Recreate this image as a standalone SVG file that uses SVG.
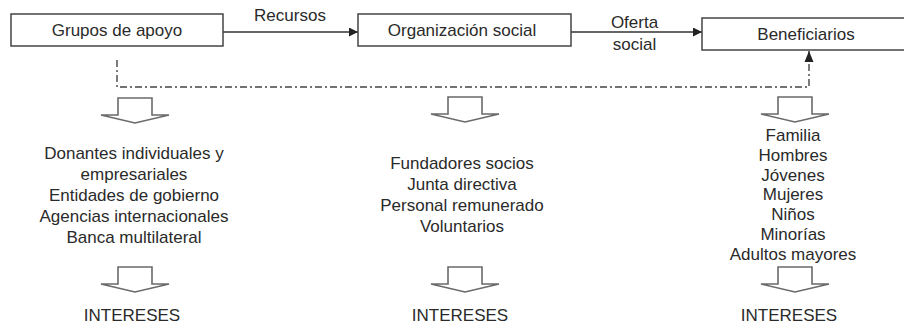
<svg xmlns="http://www.w3.org/2000/svg" width="904" height="324" viewBox="0 0 904 324">
<style>
text{font-family:"Liberation Sans",Arial,sans-serif;font-size:17px;fill:#2a2a2a;text-anchor:middle}
.box{fill:#fff;stroke:#444;stroke-width:1.5}
.conn{fill:none;stroke:#333;stroke-width:1.4}
.dd{fill:none;stroke:#444;stroke-width:1.4;stroke-dasharray:7 3 2 3}
.hollow{fill:#fff;stroke:#6a6a6a;stroke-width:1.6;stroke-linejoin:miter}
</style>
<defs>
<marker id="ah" viewBox="0 0 10 10" refX="10" refY="5" markerWidth="10" markerHeight="9" markerUnits="userSpaceOnUse" orient="auto">
<path d="M0,0 L10,5 L0,10 Z" fill="#222"/>
</marker>
<path id="harrow" class="hollow" d="M-17,17 V0 H17 V17 H34 L0,25 L-34,17 Z"/>
</defs>
<g id="connectors">
<line class="conn" x1="223" y1="32" x2="358" y2="32" marker-end="url(#ah)"/>
<text x="290" y="21">Recursos</text>
<line class="conn" x1="571" y1="32" x2="702" y2="32" marker-end="url(#ah)"/>
<text x="634.5" y="28">Oferta</text>
<text x="634.5" y="50">social</text>
<path class="dd" d="M117,60 V87 H809 V51"/>
<path d="M804.5,62 L809,51 L813.5,62 Z" fill="#222"/>
<use href="#harrow" x="135" y="98"/>
<use href="#harrow" x="465" y="97"/>
<use href="#harrow" x="795" y="97"/>
<use href="#harrow" x="135" y="267"/>
<use href="#harrow" x="465" y="267"/>
<use href="#harrow" x="795" y="267"/>
</g>
<g id="grupos">
<rect class="box" x="11" y="14" width="212" height="32"/>
<text x="117" y="36">Grupos de apoyo</text>
</g>
<g id="organizacion">
<rect class="box" x="358" y="14" width="213" height="32"/>
<text x="462" y="36">Organización social</text>
</g>
<g id="beneficiarios">
<rect class="box" x="702" y="18" width="206" height="32"/>
<text x="806" y="40">Beneficiarios</text>
</g>
<g id="lista-grupos">
<text x="134" y="159">Donantes individuales y</text>
<text x="134" y="180">empresariales</text>
<text x="134" y="201">Entidades de gobierno</text>
<text x="134" y="222">Agencias internacionales</text>
<text x="134" y="243">Banca multilateral</text>
</g>
<g id="lista-organizacion">
<text x="462" y="169">Fundadores socios</text>
<text x="462" y="190">Junta directiva</text>
<text x="462" y="211">Personal remunerado</text>
<text x="462" y="232">Voluntarios</text>
</g>
<g id="lista-beneficiarios">
<text x="793" y="141">Familia</text>
<text x="793" y="161">Hombres</text>
<text x="793" y="181">Jóvenes</text>
<text x="793" y="200">Mujeres</text>
<text x="793" y="220">Niños</text>
<text x="793" y="240">Minorías</text>
<text x="793" y="260">Adultos mayores</text>
</g>
<g id="intereses">
<text x="132" y="321">INTERESES</text>
<text x="460" y="321">INTERESES</text>
<text x="789" y="321">INTERESES</text>
</g>
</svg>
